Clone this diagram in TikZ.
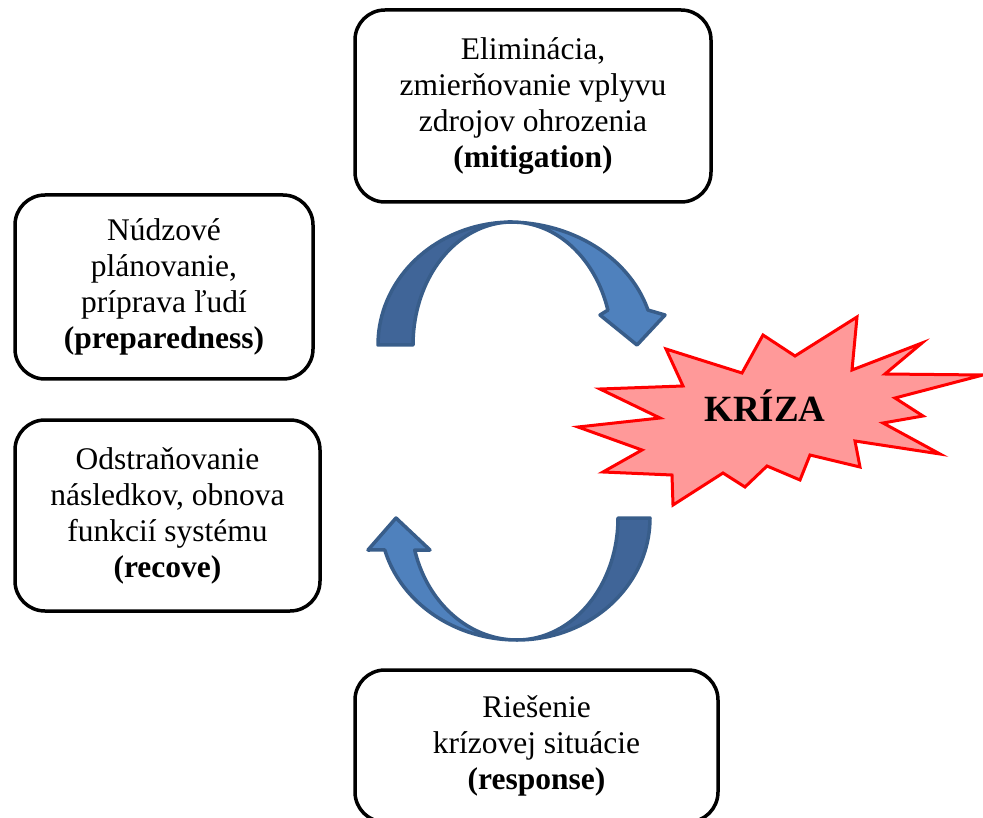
\documentclass[tikz,border=0pt]{standalone}
\usepackage{fontspec}
\setmainfont{Liberation Serif}
\definecolor{arrowdark}{RGB}{64,101,152}
\definecolor{arrowlight}{RGB}{79,129,189}
\definecolor{arrowline}{RGB}{56,93,138}
\definecolor{burstfill}{RGB}{255,153,153}
\begin{document}
\begin{tikzpicture}[x=1pt,y=-1pt,
  box/.style={draw=black, line width=3.5pt, rounded corners=30pt, fill=white,
    align=center, font=\fontsize{31.5}{36}\selectfont, inner sep=0pt},
  darkarc/.style={fill=arrowdark, draw=arrowline, line width=3.5pt, line join=round},
  lightarc/.style={fill=arrowlight, draw=arrowline, line width=3.5pt, line join=round},
  burst/.style={fill=burstfill, draw=red, line width=3pt, line join=miter},
]
\useasboundingbox (0,0) rectangle (983,818);
\clip (0,0) rectangle (983,818);

% boxes
\node[box, minimum width=356pt, minimum height=192pt] (mit) at (533,106)
  {Eliminácia,\\zmierňovanie vplyvu\\zdrojov ohrozenia\\\textbf{(mitigation)}};
\node[box, minimum width=298pt, minimum height=184pt] (prep) at (164,287)
  {Núdzové\\plánovanie,\\príprava ľudí\\\textbf{(preparedness)}};
\node[box, minimum width=305pt, minimum height=191pt] (rec) at (167.5,515.5)
  {Odstraňovanie\\následkov, obnova\\funkcií systému\\\textbf{(recove)}};
\node[box, minimum width=363pt, minimum height=152pt] (resp) at (536.5,746)
  {Riešenie\\krízovej situácie\\\textbf{(response)}};

% top curved arrow (back, dark crescent)
\draw[darkarc] plot[domain=180:270, samples=40] ({512+134*cos(\x)},{345+123*sin(\x)})
  -- plot[domain=270:180, samples=40] ({512+99*cos(\x)},{345+123*sin(\x)}) -- cycle;
% top curved arrow (front, with head)
\draw[lightarc] plot[domain=270:343.5, samples=40] ({508+146*cos(\x)},{345+123*sin(\x)})
  -- (665,315) -- (637,345) -- (600,315) -- (608,310)
  -- plot[domain=343.5:270, samples=40] ({512+100*cos(\x)},{345+123*sin(\x)}) -- cycle;

% bottom curved arrow (back, dark crescent)
\draw[darkarc] plot[domain=0:90, samples=40] ({517+133*cos(\x)},{518+122*sin(\x)})
  -- plot[domain=90:0, samples=40] ({517+101*cos(\x)},{518+122*sin(\x)}) -- cycle;
% bottom curved arrow (front, with head)
\draw[lightarc] plot[domain=90:164.8, samples=40] ({517+137*cos(\x)},{518+122*sin(\x)})
  -- (368,550) -- (396,518) -- (430,550) -- (414.7,550)
  -- plot[domain=164.8:90, samples=40] ({517+106*cos(\x)},{518+122*sin(\x)}) -- cycle;

% starburst
\draw[burst] (578,427) -- (660,418) -- (600,389) -- (683,386) -- (666,349)
  -- (742,373) -- (763,335) -- (795,356) -- (857,317) -- (852,370)
  -- (922,343) -- (885,374) -- (983,375) -- (895,398) -- (923,416)
  -- (883,423) -- (940,454) -- (855,441) -- (860,467) -- (810,455)
  -- (800,480) -- (767,466) -- (745,487) -- (723,473) -- (673,505)
  -- (672,475) -- (603,472) -- (642,450) -- cycle;
\node[anchor=base, font=\fontsize{37}{40}\selectfont\bfseries, inner sep=0pt] (kriza) at (765,421) {KRÍZA};
\end{tikzpicture}
\end{document}
